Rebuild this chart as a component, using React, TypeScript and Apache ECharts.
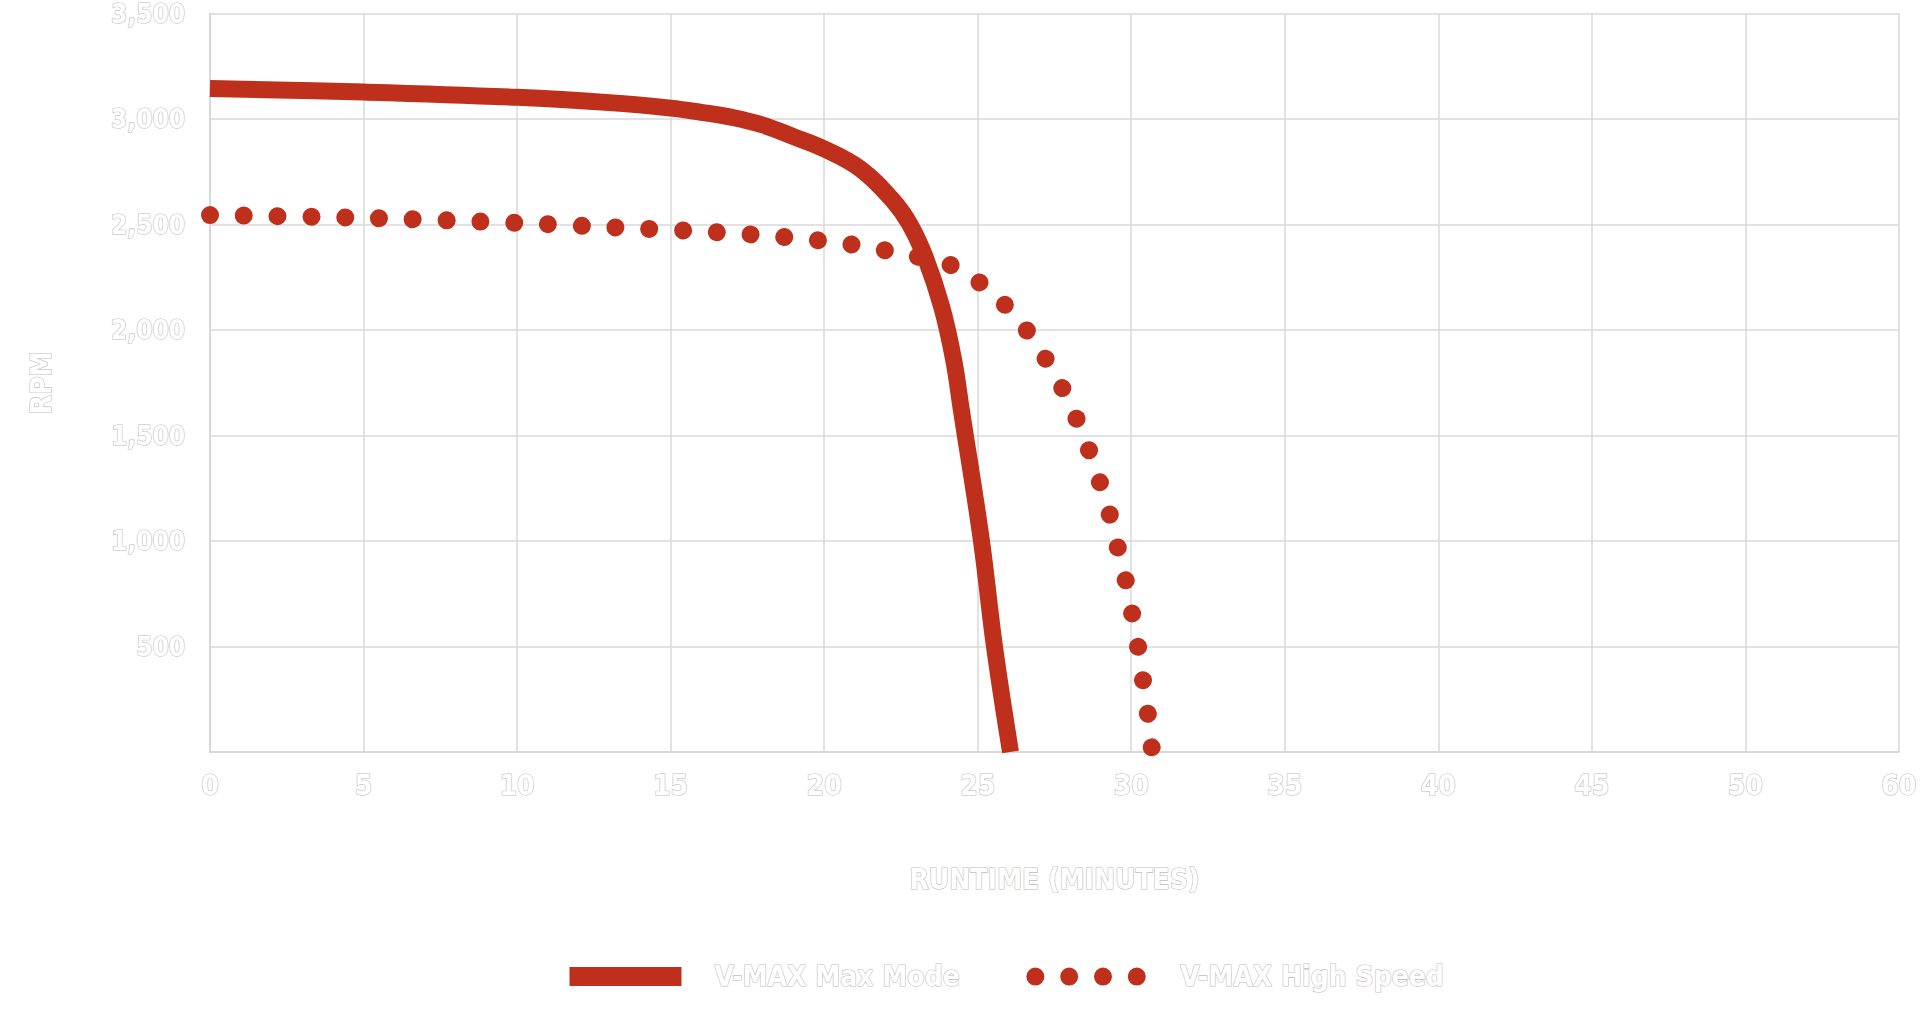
import React, { useEffect, useRef } from "react";
import * as echarts from "echarts";

// X axis tick labels (the last tick of the source chart reads 60)
const xTickLabels = ["0", "5", "10", "15", "20", "25", "30", "35", "40", "45", "50", "60"];
const yTickLabels = ["0", "500", "1,000", "1,500", "2,000", "2,500", "3,000", "3,500"];

const seriesNames = ["V-MAX Max Mode", "V-MAX High Speed"];

// V-MAX Max Mode (solid line): runtime in minutes, RPM
const maxModeMinutes = [0, 5, 10, 13, 15, 16, 17, 18, 19, 20, 21.18, 22.24, 22.78, 23.29, 23.83, 24.22, 24.47, 25.12, 25.55, 26.07];
const maxModeRpm = [3145, 3128, 3103, 3078, 3052, 3032, 3008, 2972, 2917, 2859, 2764, 2614, 2504, 2346, 2109, 1857, 1620, 1004, 497, 0];

// V-MAX High Speed (dotted line): runtime in minutes, RPM
const highSpeedMinutes = [0, 5, 10, 13, 16.48, 18.68, 20.87, 23.0, 24.07, 25.0, 25.85, 26.58, 27.2, 27.75, 28.22, 28.63, 28.99, 29.31, 29.57, 29.83, 30.04, 30.23, 30.39, 30.55, 30.67];
const highSpeedRpm = [2545, 2532, 2508, 2488, 2464, 2441, 2406, 2349, 2311, 2232, 2125, 2002, 1867, 1727, 1579, 1429, 1275, 1121, 965, 808, 649, 493, 333, 174, 19];

const RED = "#be2f1c";
const FONT = '"Liberation Sans Narrow", "DejaVu Sans Condensed", "Roboto", sans-serif';
const baseText = {
  color: "#ffffff",
  fontFamily: FONT,
  fontWeight: "bold" as const,
  textBorderColor: "#bdbdbd",
  textBorderWidth: 1.2,
};

export default function App() {
  const ref = useRef<HTMLDivElement>(null);

  useEffect(() => {
    if (!ref.current) return;
    const chart = echarts.init(ref.current, undefined, { renderer: "svg" });
    const maxData = maxModeMinutes.map((m, i) => [m, maxModeRpm[i]]);
    const hsData = highSpeedMinutes.map((m, i) => [m, highSpeedRpm[i]]);

    chart.setOption({
      animation: false,
      backgroundColor: "#ffffff",
      grid: { left: 210, right: 14, top: 13, bottom: 259, containLabel: false },
      xAxis: {
        type: "value",
        min: 0,
        max: 55,
        interval: 5,
        name: "RUNTIME (MINUTES)",
        nameLocation: "middle",
        nameGap: 113,
        nameTextStyle: { ...baseText, fontSize: 28 },
        axisLine: { show: true, lineStyle: { color: "#d4d4d4", width: 1.5 } },
        axisTick: { show: false },
        axisLabel: {
          ...baseText,
          fontSize: 28,
          margin: 19,
          formatter: (v: number) => xTickLabels[Math.round(v / 5)] ?? "",
        },
        splitLine: { show: true, lineStyle: { color: "#d9d9d9", width: 1.5 } },
      },
      yAxis: {
        type: "value",
        min: 0,
        max: 3500,
        interval: 500,
        name: "RPM",
        nameLocation: "middle",
        nameGap: 155,
        nameTextStyle: { ...baseText, fontSize: 28 },
        axisLine: { show: true, lineStyle: { color: "#d4d4d4", width: 1.5 } },
        axisTick: { show: false },
        axisLabel: {
          ...baseText,
          fontSize: 26,
          margin: 25,
          showMinLabel: false,
          formatter: (v: number) => yTickLabels[Math.round(v / 500)] ?? "",
        },
        splitLine: { show: true, lineStyle: { color: "#d9d9d9", width: 1.5 } },
      },
      legend: {
        left: 560,
        top: 962,
        padding: 0,
        itemWidth: 112,
        itemHeight: 20,
        itemGap: 66,
        textStyle: { ...baseText, fontSize: 28, padding: [0, 0, 0, 28] },
        itemStyle: { opacity: 0 },
        data: [
          { name: seriesNames[0], lineStyle: { width: 19 } },
          { name: seriesNames[1], lineStyle: { width: 18 } },
        ],
      },
      series: [
        {
          name: seriesNames[0],
          type: "line",
          data: maxData,
          smooth: 0.4,
          symbol: "none",
          showSymbol: false,
          lineStyle: { color: RED, width: 17, cap: "butt", join: "round" },
          itemStyle: { color: RED },
        },
        {
          name: seriesNames[1],
          type: "line",
          data: hsData,
          smooth: 0.3,
          symbol: "none",
          showSymbol: false,
          lineStyle: { color: RED, width: 18, type: [0.01, 33.8], cap: "round" },
          itemStyle: { color: RED },
        },
      ],
    });

    return () => chart.dispose();
  }, []);

  return (
    <div
      ref={ref}
      style={{ position: "fixed", left: 0, top: 0, width: 1920, height: 1011, background: "#fff" }}
    />
  );
}
